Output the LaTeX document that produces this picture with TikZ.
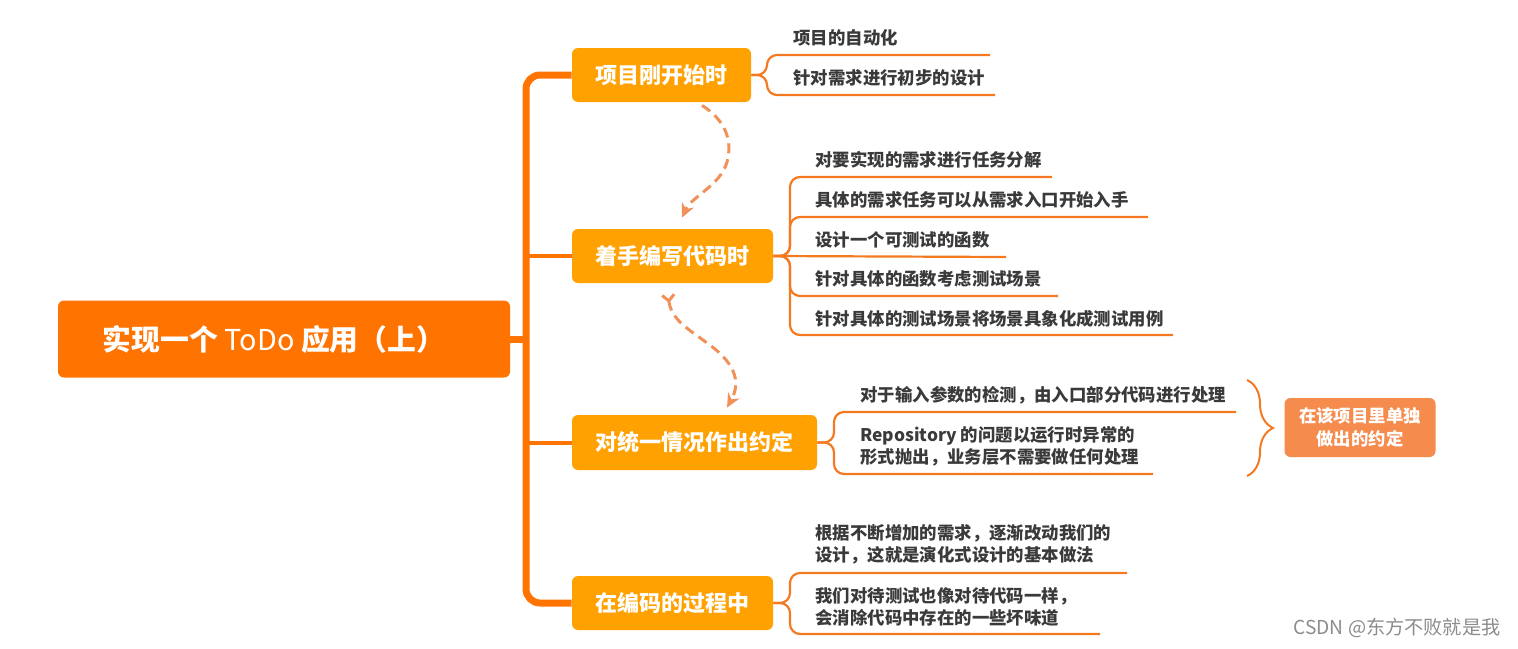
\documentclass[tikz,border=0pt]{standalone}
\usepackage{fontspec}
\setmainfont{Noto Sans CJK SC}
\usetikzlibrary{calc,decorations.pathreplacing,arrows.meta}
\definecolor{rootc}{HTML}{FF7300}
\definecolor{branchc}{HTML}{FFA100}
\definecolor{leafc}{HTML}{F47A22}
\definecolor{sumc}{HTML}{F58B4C}
\definecolor{dashc}{HTML}{F0915A}
\definecolor{leaftext}{HTML}{3A3A3A}
\definecolor{wmark}{HTML}{8C8C8C}
\begin{document}
\begin{tikzpicture}[x=0.5pt,y=-0.5pt,
  rootbox/.style={fill=rootc, rounded corners=3pt, text=white, inner sep=0pt,
    font=\fontsize{14.4}{17}\selectfont\bfseries, minimum width=226pt, minimum height=38.5pt},
  branchbox/.style={fill=branchc, rounded corners=3pt, text=white, inner sep=0pt,
    font=\fontsize{11}{13}\selectfont\bfseries, minimum height=27pt},
  sumbox/.style={fill=sumc, rounded corners=3pt, text=white, inner sep=0pt, align=center,
    font=\fontsize{8.7}{11.5}\selectfont\bfseries, minimum width=75.5pt, minimum height=29.5pt},
  leaf/.style={text=leaftext, anchor=west, inner sep=0pt, align=left,
    font=\fontsize{8.7}{11}\selectfont\bfseries},
  trunk/.style={draw=rootc, line width=3.5pt, rounded corners=7pt},
  twig/.style={draw=rootc, line width=2pt},
  leafline/.style={draw=leafc, line width=1.1pt, rounded corners=5pt},
  flow/.style={draw=dashc, line width=1.5pt, dash pattern=on 5pt off 3pt},
  flowtip/.style={-{Stealth[length=7pt,width=6.5pt]}},
]
\useasboundingbox (0,0) rectangle (1518,648);

% main nodes
\node[rootbox] (root) at (284,339) {实现一个 {\mdseries ToDo} 应用（上）\hspace*{10pt}};
\node[branchbox, minimum width=89.5pt]  (b1) at (661.5,75)  {项目刚开始时};
\node[branchbox, minimum width=100.5pt] (b2) at (672.5,256) {着手编写代码时};
\node[branchbox, minimum width=122.5pt, minimum height=27.5pt] (b3) at (694.5,442.5) {对统一情况作出约定};
\node[branchbox, minimum width=100.5pt] (b4) at (672.5,603) {在编码的过程中};
\node[sumbox] (sum) at (1360,427.5) {在该项目里单独\\做出的约定};

% trunk
\coordinate (tr) at (526,339);
\draw[trunk] (b1.west) -| (tr) |- (b4.west);
\draw[trunk] (root.east) -- (tr);
\draw[twig] (b2.west -| tr) -- (b2.west);
\draw[twig] (b3.west -| tr) -- (b3.west);

% branch 1 leaves
\node[leaf] (l11) at (793,38) {项目的自动化};
\node[leaf] (l12) at (793,78) {针对需求进行初步的设计};
\coordinate (c11) at (767,55);  \coordinate (e11) at (990,55);
\coordinate (c12) at (767,95);  \coordinate (e12) at (995,95);
\draw[leafline] (b1.east) -| (c11) -- (e11);
\draw[leafline] (b1.east) -| (c12) -- (e12);

% branch 2 leaves
\node[leaf] (l21) at (815,160) {对要实现的需求进行任务分解};
\node[leaf] (l22) at (815,200) {具体的需求任务可以从需求入口开始入手};
\node[leaf] (l23) at (815,240) {设计一个可测试的函数};
\node[leaf] (l24) at (815,279) {针对具体的函数考虑测试场景};
\node[leaf] (l25) at (815,319) {针对具体的测试场景将场景具象化成测试用例};
\coordinate (c21) at (790,177); \coordinate (e21) at (1052,177);
\coordinate (c22) at (790,217); \coordinate (e22) at (1148,217);
\coordinate (c23) at (790,257); \coordinate (e23) at (1006,257);
\coordinate (c24) at (790,296); \coordinate (e24) at (1058,296);
\coordinate (c25) at (790,335); \coordinate (e25) at (1173,335);
\draw[leafline] (b2.east) -| (c21) -- (e21);
\draw[leafline] (b2.east) -| (c22) -- (e22);
\draw[leafline] (b2.east) -- (e23);
\draw[leafline] (b2.east) -| (c24) -- (e24);
\draw[leafline] (b2.east) -| (c25) -- (e25);

% branch 3 leaves
\node[leaf] (l31) at (860,395) {对于输入参数的检测，由入口部分代码进行处理};
\node[leaf] (l32) at (860,446) {Repository 的问题以运行时异常的\\形式抛出，业务层不需要做任何处理};
\coordinate (c31) at (834,412); \coordinate (e31) at (1236,412);
\coordinate (c32) at (834,474); \coordinate (e32) at (1153,474);
\draw[leafline] (b3.east) -| (c31) -- (e31);
\draw[leafline] (b3.east) -| (c32) -- (e32);

% summary brace
\coordinate (bt) at (1247,380); \coordinate (bb) at (1247,476);
\draw[draw=leafc, line width=1pt, decorate,
  decoration={brace, amplitude=13pt}] (bt) -- (bb);

% branch 4 leaves
\node[leaf] (l41) at (815,544) {根据不断增加的需求，逐渐改动我们的\\设计，这就是演化式设计的基本做法};
\node[leaf] (l42) at (815,607) {我们对待测试也像对待代码一样，\\会消除代码中存在的一些坏味道};
\coordinate (c41) at (790,573); \coordinate (e41) at (1127,573);
\coordinate (c42) at (790,634); \coordinate (e42) at (1100,634);
\draw[leafline] (b4.east) -| (c41) -- (e41);
\draw[leafline] (b4.east) -| (c42) -- (e42);

% dashed flow arrows
\coordinate (s1) at ($(b1.south)+(40.5,3)$);
\coordinate (t1) at ($(b2.north)+(9.5,-11)$);
\coordinate (s2) at ($(b2.south)+(-4.5,10)$);
\coordinate (t2) at ($(b3.north)+(32.5,-7)$);
\draw[flow, flowtip]
  (s1) .. controls (725,120) and (733,140) .. (727,162)
       .. controls (720,186) and (692,196) .. (t1);
\draw[flow, {Straight Barb[reversed,length=3pt,width=6pt]}-{Stealth[length=7pt,width=6.5pt]}]
  (s2) .. controls (671,320) and (690,330) .. (707,343)
       .. controls (740,366) and (739,386) .. (t2);

% watermark
\node[text=wmark, inner sep=0pt, font=\fontsize{9.6}{11}\selectfont] (wm) at (1397,628) {CSDN @东方不败就是我};
\end{tikzpicture}
\end{document}
